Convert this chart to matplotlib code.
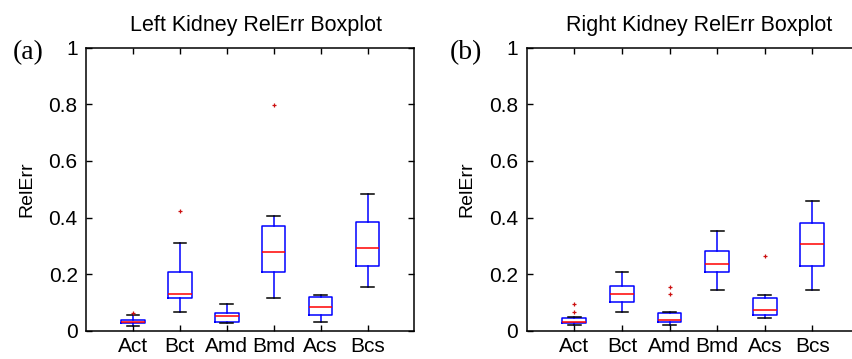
import matplotlib
matplotlib.use("Agg")
import matplotlib.pyplot as plt

categories = ['Act', 'Bct', 'Amd', 'Bmd', 'Acs', 'Bcs']

left_q1 = [0.027, 0.116, 0.032, 0.207, 0.057, 0.231]
left_med = [0.031, 0.132, 0.052, 0.278, 0.086, 0.294]
left_q3 = [0.039, 0.207, 0.062, 0.370, 0.121, 0.386]
left_lo = [0.017, 0.068, 0.027, 0.116, 0.033, 0.155]
left_hi = [0.058, 0.312, 0.097, 0.404, 0.126, 0.485]
left_fliers = [[0.064], [0.422], [], [0.797], [], []]

right_q1 = [0.027, 0.102, 0.032, 0.207, 0.057, 0.231]
right_med = [0.032, 0.132, 0.039, 0.237, 0.074, 0.306]
right_q3 = [0.046, 0.160, 0.062, 0.283, 0.116, 0.382]
right_lo = [0.022, 0.068, 0.021, 0.145, 0.047, 0.145]
right_hi = [0.048, 0.207, 0.068, 0.353, 0.126, 0.457]
right_fliers = [[0.067, 0.097], [], [0.132, 0.155], [], [0.265], []]

titles = ['Left Kidney RelErr Boxplot', 'Right Kidney RelErr Boxplot']
panel_labels = ['(a)', '(b)']
yticks = [0, 0.2, 0.4, 0.6, 0.8, 1]
ytick_labels = ['0', '0.2', '0.4', '0.6', '0.8', '1']

plt.rcParams['font.family'] = ['Liberation Sans', 'DejaVu Sans']

W, H = 853, 359
fig = plt.figure(figsize=(W / 100, H / 100), dpi=100)

ax_rects = [
    [86 / W, 28 / H, 328.5 / W, 283.5 / H],
    [526.7 / W, 28 / H, 333.3 / W, 283.5 / H],
]
panel_xy = [(28 / W, 1 - 53 / H), (466 / W, 1 - 53 / H)]

data = [
    (left_q1, left_med, left_q3, left_lo, left_hi, left_fliers),
    (right_q1, right_med, right_q3, right_lo, right_hi, right_fliers),
]

for i, (q1, med, q3, lo, hi, fl) in enumerate(data):
    ax = fig.add_axes(ax_rects[i])
    stats = []
    for k, name in enumerate(categories):
        stats.append(dict(label=name, q1=q1[k], med=med[k], q3=q3[k],
                          whislo=lo[k], whishi=hi[k], fliers=fl[k]))
    ax.bxp(stats, positions=range(1, len(categories) + 1), widths=0.5,
           capwidths=0.27, showfliers=True,
           boxprops=dict(color='#0000ff', linewidth=1.1),
           medianprops=dict(color='#ff0000', linewidth=1.1),
           whiskerprops=dict(color='#0000ff', linewidth=1.1),
           capprops=dict(color='black', linewidth=1.1),
           flierprops=dict(marker='+', markeredgecolor='#cc1111',
                           markersize=3, markeredgewidth=0.9, linestyle='none'))
    ax.set_xlim(0, 7)
    ax.set_ylim(0, 1)
    ax.set_xticks(range(1, len(categories) + 1))
    ax.set_xticklabels(categories, fontsize=15)
    ax.set_yticks(yticks)
    ax.set_yticklabels(ytick_labels, fontsize=15)
    ax.tick_params(direction='in', length=4, width=1, top=True, right=True)
    ax.tick_params(axis='y', pad=6)
    ax.tick_params(axis='x', pad=4)
    for s in ax.spines.values():
        s.set_linewidth(1.1)
    ax.set_ylabel('RelErr', fontsize=14)
    ax.yaxis.set_label_coords(-59.5 / (ax_rects[i][2] * W), 0.5)
    ax.yaxis.label.set_va('center')
    ax.set_title(titles[i], fontsize=15.5, x=0.517, pad=12)
    fig.text(panel_xy[i][0], panel_xy[i][1], panel_labels[i], ha='center', va='center',
             fontsize=20, family=['Liberation Serif', 'DejaVu Serif'])

fig.savefig('out.png', dpi=100)
